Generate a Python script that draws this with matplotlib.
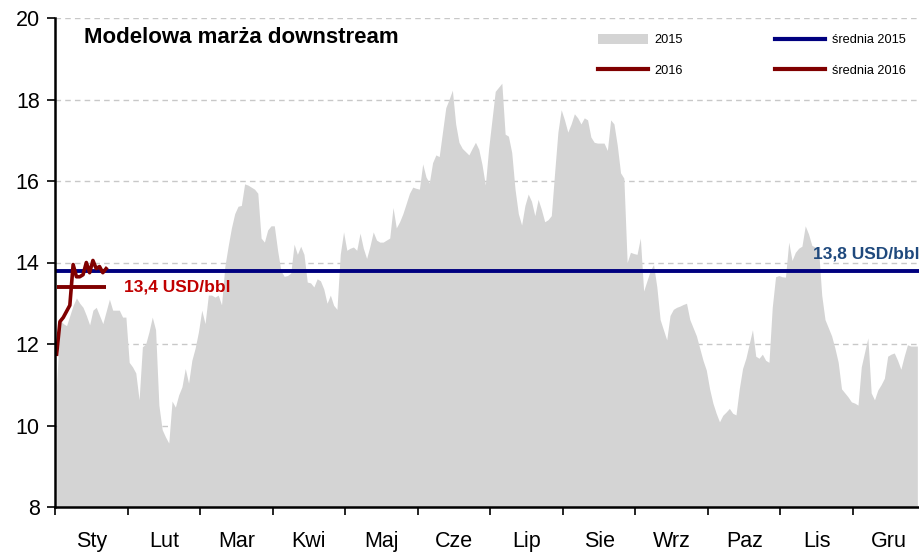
import matplotlib
matplotlib.use("Agg")
import matplotlib.pyplot as plt
from matplotlib.lines import Line2D
from matplotlib.patches import Patch
import numpy as np

# Downstream model margin, USD/bbl, one value per trading day
margin_2015 = [
    11.0, 12.6, 12.5, 12.45, 12.7, 12.95, 13.13, 13.0, 12.9, 12.7,
    12.47, 12.83, 12.9, 12.7, 12.5, 12.8, 13.1, 12.83, 12.83, 12.83,
    12.66, 12.66, 11.55, 11.44, 11.29, 10.63, 11.93, 12.0, 12.3, 12.66,
    12.35, 10.5, 9.9, 9.72, 9.57, 10.6, 10.45, 10.75, 10.95, 11.4,
    11.04, 11.6, 11.9, 12.3, 12.83, 12.5, 13.2, 13.2, 13.15, 13.2,
    12.96, 13.9, 14.4, 14.85, 15.2, 15.38, 15.4, 15.93, 15.9, 15.85,
    15.8, 15.7, 14.6, 14.5, 14.8, 14.9, 14.9, 14.3, 13.8, 13.66,
    13.68, 13.74, 14.45, 14.2, 14.4, 14.2, 13.52, 13.5, 13.4, 13.6,
    13.55, 13.35, 13.0, 13.2, 12.95, 12.85, 14.2, 14.75, 14.3, 14.35,
    14.38, 14.3, 14.72, 14.35, 14.1, 14.4, 14.75, 14.55, 14.5, 14.5,
    14.55, 14.6, 15.35, 14.85, 15.0, 15.2, 15.45, 15.7, 15.85, 15.82,
    15.8, 16.42, 16.1, 15.95, 16.45, 16.64, 16.6, 17.2, 17.8, 18.0,
    18.23, 17.4, 16.95, 16.8, 16.72, 16.64, 16.8, 16.95, 16.78, 16.4,
    15.9, 16.8, 17.5, 18.2, 18.3, 18.4, 17.15, 17.1, 16.7, 15.8,
    15.2, 14.92, 15.4, 15.68, 15.5, 15.15, 15.55, 15.3, 15.0, 15.05,
    15.15, 16.2, 17.2, 17.75, 17.5, 17.2, 17.4, 17.65, 17.55, 17.4,
    17.55, 17.5, 17.08, 16.95, 16.93, 16.93, 16.93, 16.75, 17.5, 17.4,
    16.88, 16.2, 16.07, 14.0, 14.25, 14.22, 14.2, 14.6, 13.3, 13.55,
    13.8, 13.95, 13.4, 12.6, 12.35, 12.1, 12.7, 12.85, 12.9, 12.93,
    12.97, 13.0, 12.6, 12.4, 12.2, 11.9, 11.6, 11.36, 10.9, 10.55,
    10.3, 10.09, 10.25, 10.33, 10.42, 10.3, 10.26, 10.9, 11.4, 11.65,
    12.0, 12.35, 11.7, 11.65, 11.75, 11.6, 11.55, 12.9, 13.65, 13.68,
    13.65, 13.64, 14.5, 14.05, 14.25, 14.35, 14.4, 14.9, 14.7, 14.42,
    14.38, 14.38, 13.2, 12.6, 12.4, 12.2, 11.9, 11.55, 10.9, 10.8,
    10.7, 10.58, 10.55, 10.5, 11.44, 11.8, 12.15, 10.8, 10.63, 10.87,
    11.0, 11.16, 11.7, 11.75, 11.78, 11.6, 11.38, 11.7, 11.98, 11.95,
    11.95, 11.95,
]
margin_2016 = [
    11.75, 12.55, 12.65, 12.8, 12.95, 13.95, 13.65, 13.65, 13.7, 14.0,
    13.75, 14.05, 13.85, 13.9, 13.75, 13.85,
]
avg_2015 = 13.8
avg_2016 = 13.4

months = ["Sty", "Lut", "Mar", "Kwi", "Maj", "Cze",
          "Lip", "Sie", "Wrz", "Paz", "Lis", "Gru"]
y_ticks = [8, 10, 12, 14, 16, 18, 20]

DAYS_PER_MONTH = 22

font = ["Liberation Sans", "DejaVu Sans"]

fig = plt.figure(figsize=(9.19, 5.52), dpi=100)
ax = fig.add_axes([55 / 919, 45 / 552, 864 / 919, 489 / 552])

x15 = np.arange(len(margin_2015))
x16 = np.arange(len(margin_2016))

ax.fill_between(x15, y_ticks[0], margin_2015, color="#d4d4d4", lw=0, zorder=1)
ax.axhline(avg_2015, color="#00007f", lw=2.8, zorder=3)
ax.plot([x16[0], x16[-1]], [avg_2016, avg_2016], color="#800000", lw=2.8,
        solid_capstyle="butt", zorder=4)
ax.plot(x16, margin_2016, color="#800000", lw=2.6, zorder=5)

ax.set_xlim(-0.5, len(margin_2015) - 0.5)
ax.set_ylim(y_ticks[0], y_ticks[-1])

# month boundaries as major ticks, month names centred between them
ax.set_xticks([DAYS_PER_MONTH * k - 0.5 for k in range(len(months))])
ax.set_xticklabels([])
ax.set_xticks([DAYS_PER_MONTH * k + DAYS_PER_MONTH / 2 - 0.5 for k in range(len(months))],
              minor=True)
ax.set_xticklabels(months, minor=True, fontsize=15.5, family=font)
ax.tick_params(axis="x", which="major", length=6, width=1.2, direction="out")
ax.tick_params(axis="x", which="minor", length=0, pad=17)

ax.set_yticks(y_ticks)
ax.set_yticklabels([str(v) for v in y_ticks], fontsize=15.5, family=font)
ax.tick_params(axis="y", length=6, width=1.2, direction="out", pad=5)

ax.grid(axis="y", color="#c8c8c8", lw=1, ls=(0, (4, 3)), zorder=0)
ax.set_axisbelow(True)
for side in ("top", "right"):
    ax.spines[side].set_visible(False)
for side in ("left", "bottom"):
    ax.spines[side].set_linewidth(1.8)
    ax.spines[side].set_zorder(6)

ax.text(0.034, 0.961, "Modelowa marża downstream", transform=ax.transAxes,
        fontsize=16, fontweight="bold", family=font, va="center", ha="left")

ax.text(20.5, 13.4, "13,4 USD/bbl", color="#c00000", fontsize=12.5,
        fontweight="bold", family=font, va="center", ha="left", zorder=7)
ax.text(len(margin_2015) - 0.2, 14.2, "13,8 USD/bbl", color="#1f497d", fontsize=12.5,
        fontweight="bold", family=font, va="center", ha="right", zorder=7)

handles = [
    Patch(facecolor="#d4d4d4", edgecolor="none"),
    Line2D([], [], color="#800000", lw=3),
    Line2D([], [], color="#00007f", lw=3),
    Line2D([], [], color="#800000", lw=3),
]
labels = ["2015", "2016", "średnia 2015", "średnia 2016"]
ax.legend(handles, labels, ncol=2, loc="upper right", bbox_to_anchor=(0.998, 0.991),
          frameon=False, prop={"family": font, "size": 9.2},
          handlelength=3.9, handleheight=0.8, columnspacing=7.2, labelspacing=1.45,
          handletextpad=0.55)

fig.savefig("out.png", dpi=100)
